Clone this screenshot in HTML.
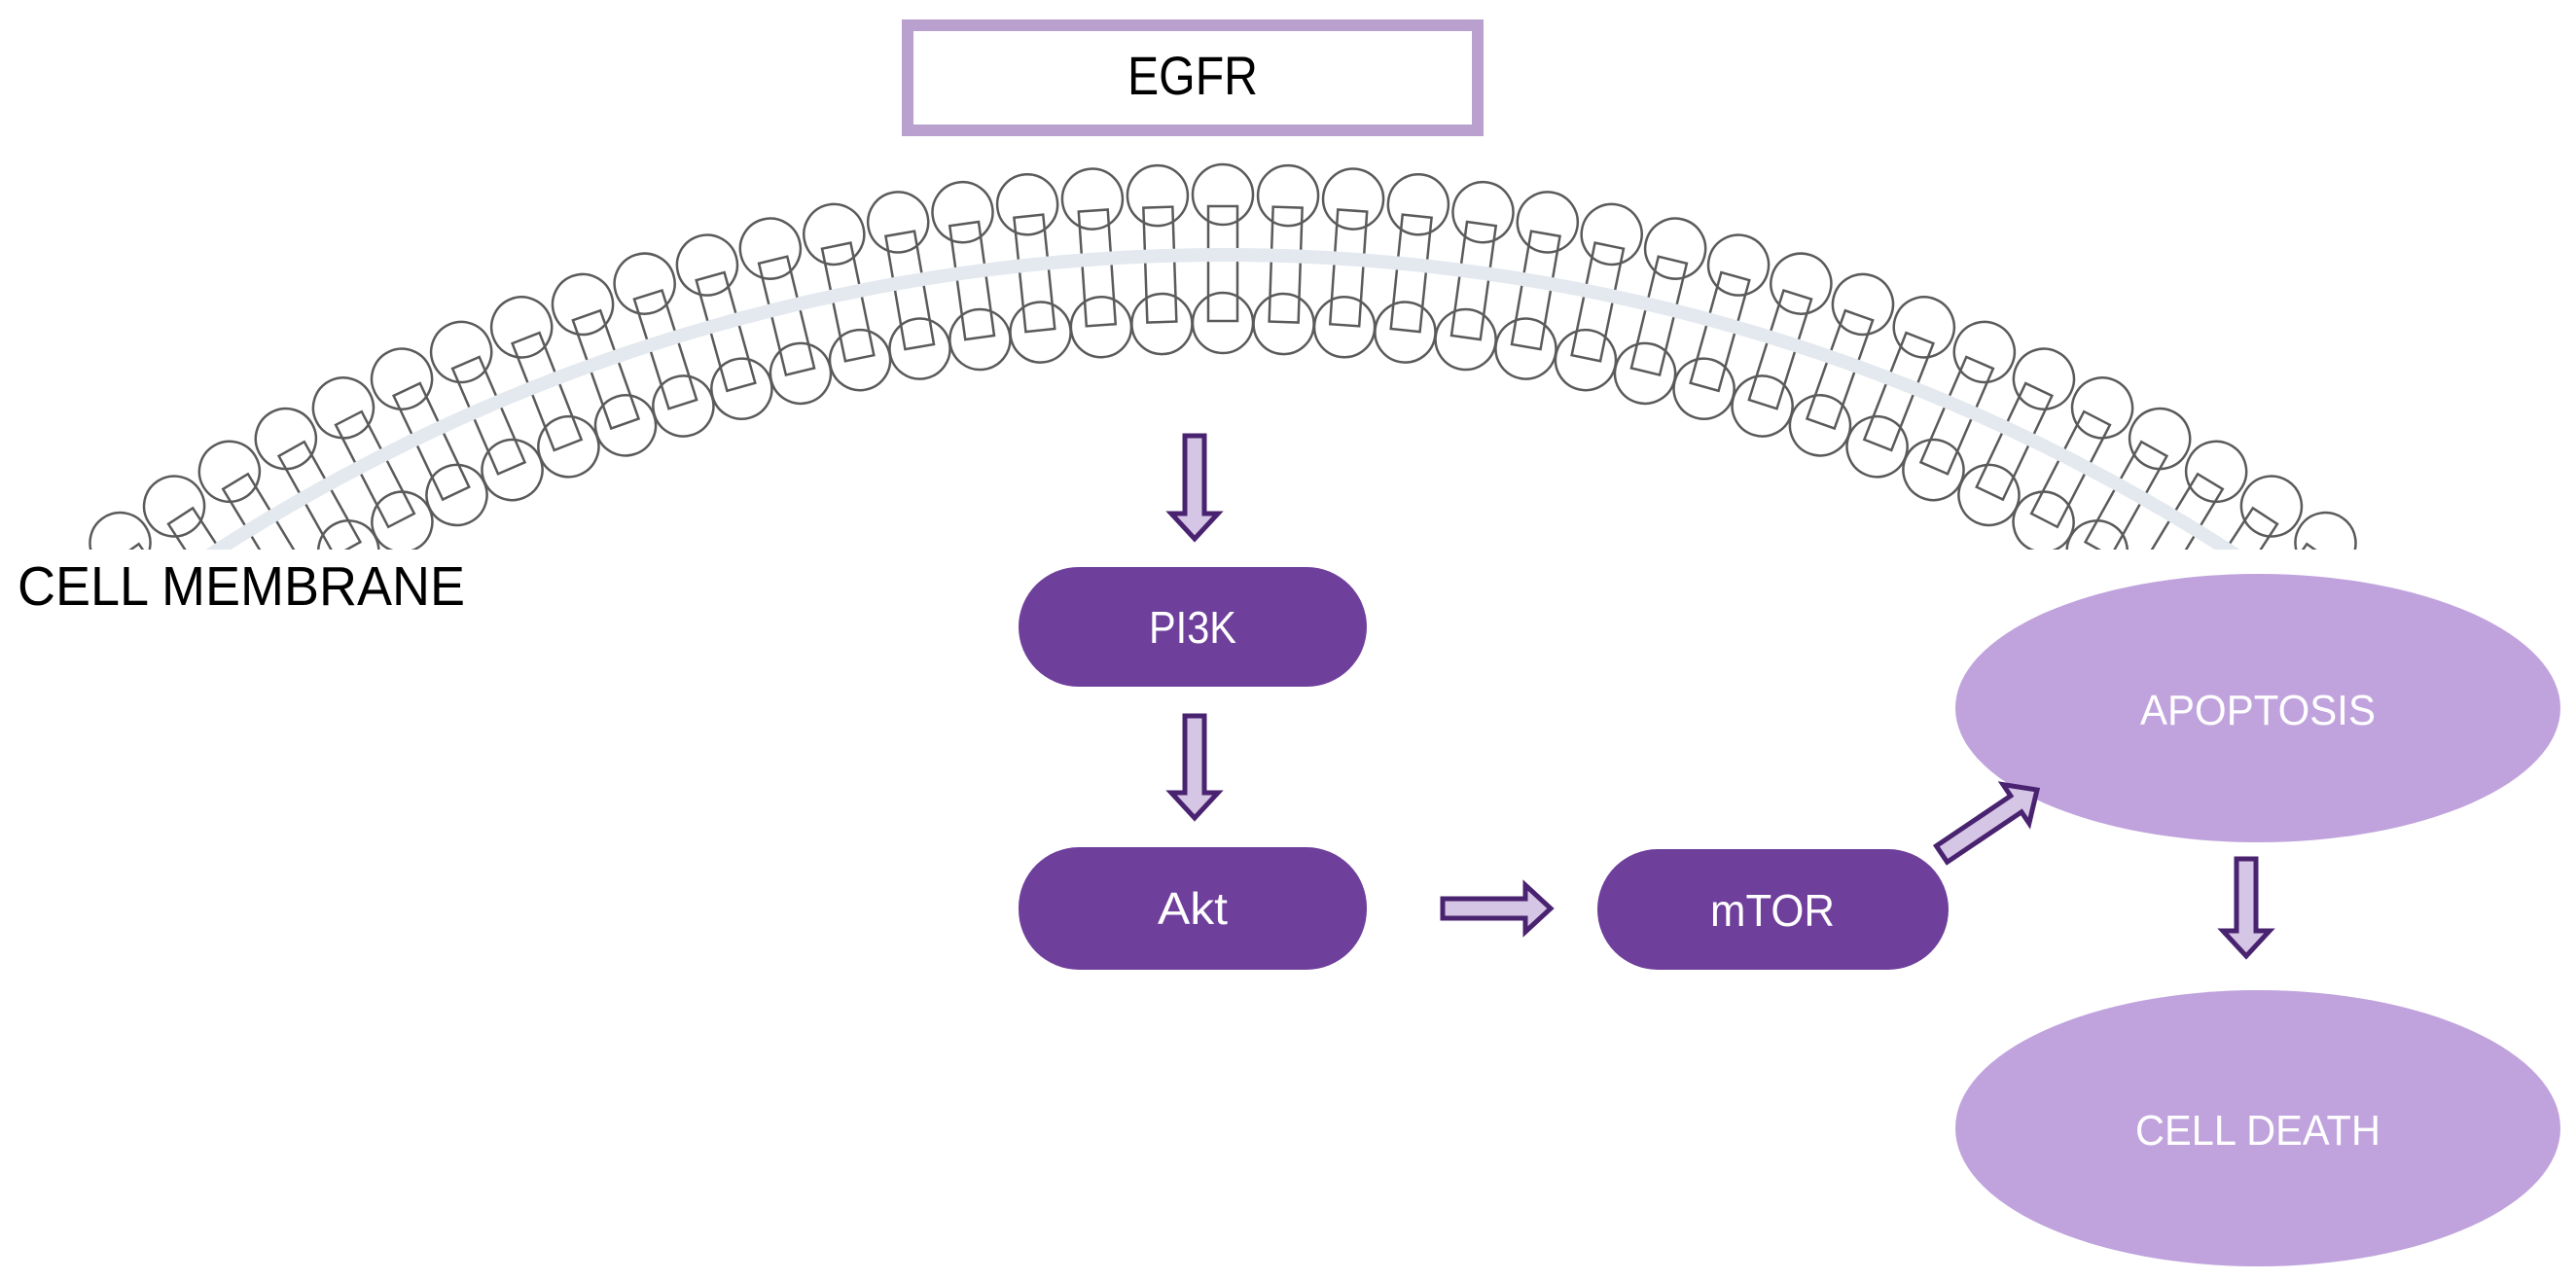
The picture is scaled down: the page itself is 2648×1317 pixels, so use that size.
<!DOCTYPE html>
<html><head><meta charset="utf-8"><style>
html,body{margin:0;padding:0;background:#fff;width:2648px;height:1317px;overflow:hidden;}
svg{display:block;}
text{font-family:"Liberation Sans",sans-serif;}
</style></head><body>
<svg id="s" width="2648" height="1317" viewBox="0 0 2648 1317" xmlns="http://www.w3.org/2000/svg">
<defs><clipPath id="cp"><rect x="0" y="0" width="2648" height="565"/></clipPath></defs>
<g id="mem" clip-path="url(#cp)"></g>
<rect x="933" y="26" width="586" height="108" fill="#fff" stroke="#b9a0ce" stroke-width="12"/>
<text x="1226" y="97" font-size="56" text-anchor="middle" textLength="134" lengthAdjust="spacingAndGlyphs">EGFR</text>
<text x="18" y="622" font-size="57" textLength="460" lengthAdjust="spacingAndGlyphs">CELL MEMBRANE</text>
<rect x="1047" y="583" width="358" height="123" rx="62" fill="#6f3f9c"/>
<text x="1226" y="661" font-size="46" fill="#fff" text-anchor="middle" textLength="90" lengthAdjust="spacingAndGlyphs">PI3K</text>
<rect x="1047" y="871" width="358" height="126" rx="62" fill="#6f3f9c"/>
<text x="1226" y="950" font-size="46" fill="#fff" text-anchor="middle" textLength="72" lengthAdjust="spacingAndGlyphs">Akt</text>
<rect x="1642" y="873" width="361" height="124" rx="62" fill="#6f3f9c"/>
<text x="1822" y="952" font-size="46" fill="#fff" text-anchor="middle" textLength="128" lengthAdjust="spacingAndGlyphs">mTOR</text>
<ellipse cx="2321" cy="728" rx="311" ry="138" fill="#c0a3dd"/>
<text x="2321" y="745" font-size="44" fill="#fff" text-anchor="middle" textLength="242" lengthAdjust="spacingAndGlyphs">APOPTOSIS</text>
<ellipse cx="2321" cy="1160" rx="311" ry="142" fill="#c0a3dd"/>
<text x="2321" y="1177" font-size="44" fill="#fff" text-anchor="middle" textLength="252" lengthAdjust="spacingAndGlyphs">CELL DEATH</text>
<g id="arr" fill="#d6c6e6" stroke="#4a2370" stroke-width="5" stroke-linejoin="miter"></g>
</svg>
<script>
var NS="http://www.w3.org/2000/svg";
var mem=document.getElementById("mem");
function el(t,a,p){var e=document.createElementNS(NS,t);for(var k in a)e.setAttribute(k,a[k]);(p||mem).appendChild(e);return e;}
var cx=1257,cy=2173,R=1911,ro=1973,ri=1841;
var step=0.034;
for(var i=-22;i<=22;i++){
  var a=i*step, deg=a*180/Math.PI;
  var g=el("g",{transform:"translate("+cx+" "+cy+") rotate("+deg+")",fill:"none",stroke:"#5a5a5a","stroke-width":"2.5"});
  el("rect",{x:-15,y:-(ro-12),width:30,height:(ro-12)-(ri+2)},g);
  el("circle",{cx:0,cy:-ro,r:31},g);
  el("circle",{cx:0,cy:-ri,r:31},g);
}
var t=0.68;
el("path",{d:"M"+(cx-R*Math.sin(t))+" "+(cy-R*Math.cos(t))+" A"+R+" "+R+" 0 0 1 "+(cx+R*Math.sin(t))+" "+(cy-R*Math.cos(t)),fill:"none",stroke:"#e4e9ef","stroke-width":"14"});
var arr=document.getElementById("arr");
function arrow(x1,y1,x2,y2){
  var dx=x2-x1,dy=y2-y1,L=Math.hypot(dx,dy),deg=Math.atan2(dy,dx)*180/Math.PI;
  var sw=10,hw=24,hl=26;
  var d="M0 "+(-sw)+" L"+(L-hl)+" "+(-sw)+" L"+(L-hl)+" "+(-hw)+" L"+L+" 0 L"+(L-hl)+" "+hw+" L"+(L-hl)+" "+sw+" L0 "+sw+" Z";
  el("path",{d:d,transform:"translate("+x1+" "+y1+") rotate("+deg+")"},arr);
}
arrow(1228,448,1228,554);
arrow(1228,736,1228,841);
arrow(1483,934,1594,934);
arrow(1996,878,2094,812);
arrow(2309,883,2309,983);
</script>
</body></html>
